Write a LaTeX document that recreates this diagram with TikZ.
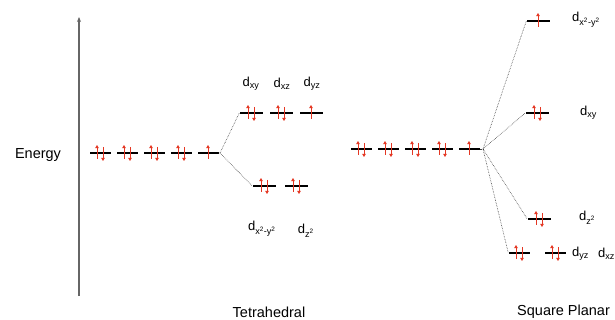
\documentclass[tikz,border=0pt]{standalone}
\usepackage{fontspec}
\setmainfont{Liberation Sans}
\usetikzlibrary{arrows.meta}
\definecolor{ered}{RGB}{228,55,35}
\tikzset{
  elec/.style={ered, line width=0.7pt, -{Triangle[length=3.2pt,width=3.6pt]}},
  bar/.style={fill=black, inner sep=0pt, minimum width=21pt, minimum height=2.4pt},
  wbar/.style={bar, minimum width=23pt},
  conn/.style={black!75, line width=0.6pt, densely dotted},
  axis/.style={black!60, line width=1.4pt, -{Stealth[length=5pt,width=4pt]}},
  lbl/.style={font=\fontsize{13}{15}\selectfont, inner sep=1pt},
  ttl/.style={font=\fontsize{14.5}{17}\selectfont, inner sep=1pt},
  pics/pair/.style={code={
    \draw[elec] (-3pt,-6pt) -- (-3pt,8pt);
    \draw[elec] (3pt,6pt) -- (3pt,-8pt);}},
  pics/single/.style={code={
    \draw[elec] (0pt,-6pt) -- (0pt,8pt);}},
}
\begin{document}
\begin{tikzpicture}[x=1pt,y=-1pt]
\useasboundingbox (0,0) rectangle (615,320);
% axis
\coordinate (ab) at (79,296);
\coordinate (at) at (79,17);
\draw[axis] (ab) -- (at);
\node[ttl] (energy) at (38,155) {Energy};
% free ion (left)
\foreach \i/\x in {1/100,2/127,3/154,4/181,5/208}{
  \node[bar] (L\i) at (\x,153) {};
}
\foreach \i in {1,2,3,4}{ \pic at (L\i) {pair}; }
\pic at (L5) {single};
\coordinate (tb) at (220,153);
% tetrahedral upper
\node[wbar] (T1) at (251,113) {};
\node[wbar] (T2) at (281,113) {};
\node[wbar] (T3) at (311,113) {};
\pic at (T1) {pair}; \pic at (T2) {pair}; \pic at (T3) {single};
% tetrahedral lower
\node[wbar] (E1) at (264,186) {};
\node[wbar] (E2) at (296,186) {};
\pic at (E1) {pair}; \pic at (E2) {pair};
\draw[conn] (L5.east) -- (tb) -- (T1.west);
\draw[conn] (tb) -- (E1.west);
\node[lbl] (lxy) at (251,84) {d\textsubscript{xy}};
\node[lbl] (lxz) at (282,84) {d\textsubscript{xz}};
\node[lbl] (lyz) at (312,84) {d\textsubscript{yz}};
\node[lbl] (lx2) at (262,229) {d\textsubscript{x\textsuperscript{2}-y\textsuperscript{2}}};
\node[lbl] (lz2) at (306,231) {d\textsubscript{z\textsuperscript{2}}};
\node[ttl] (tet) at (269,312) {Tetrahedral};
% free ion (square planar)
\foreach \i/\x in {1/361,2/388,3/415,4/442,5/469}{
  \node[bar] (S\i) at (\x,149) {};
}
\foreach \i in {1,2,3,4}{ \pic at (S\i) {pair}; }
\pic at (S5) {single};
\coordinate (sb) at (483,149);
% square planar levels
\node[wbar] (P1) at (538,21) {};
\node[wbar] (P2) at (537,113) {};
\node[wbar] (P3) at (539,219) {};
\node[bar] (P4) at (519,253) {};
\node[bar] (P5) at (555,253) {};
\pic at (P1) {single};
\pic at (P2) {pair};
\pic at (P3) {pair};
\pic at (P4) {pair};
\pic at (P5) {pair};
\draw[conn] (S5.east) -- (sb);
\draw[conn] (sb) -- (P1.west);
\draw[conn] (sb) -- (P2.west);
\draw[conn] (sb) -- (P3.west);
\draw[conn] (sb) -- (P4.west);
\node[lbl, anchor=west] (m1) at (571,20) {d\textsubscript{x\textsuperscript{2}-y\textsuperscript{2}}};
\node[lbl, anchor=west] (m2) at (579,113) {d\textsubscript{xy}};
\node[lbl, anchor=west] (m3) at (578,218) {d\textsubscript{z\textsuperscript{2}}};
\node[lbl, anchor=west] (m4) at (571,254) {d\textsubscript{yz}};
\node[lbl, anchor=west] (m5) at (597,254) {d\textsubscript{xz}};
\node[ttl, anchor=west] (sq) at (516,312) {Square Planar};
\end{tikzpicture}
\end{document}
